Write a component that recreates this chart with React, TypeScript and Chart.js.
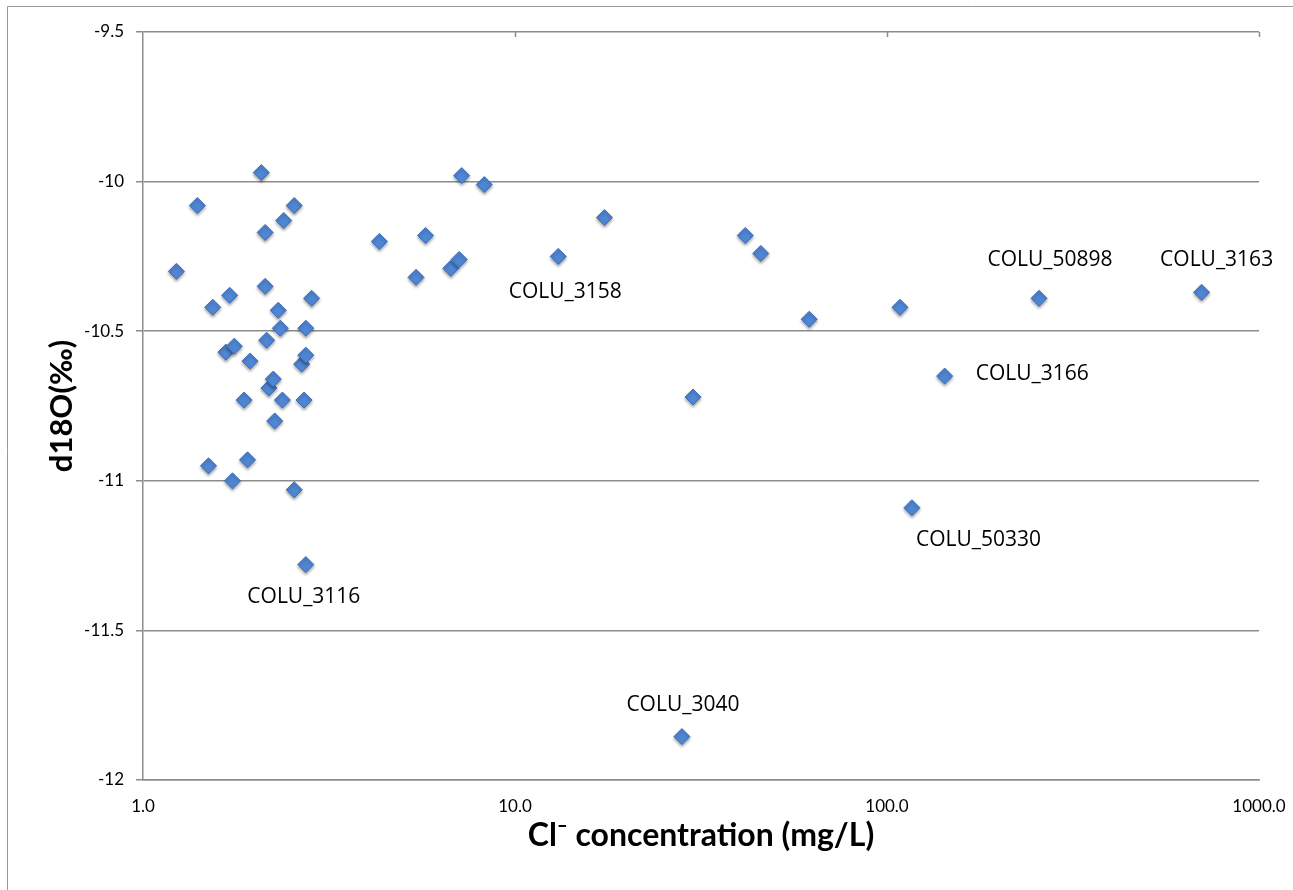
import React, { useEffect, useRef } from 'react';
import { Chart, registerables } from 'chart.js';

Chart.register(...registerables);

// ---- data ----
const clConcentration = [
  1.23, 1.40, 1.50, 1.54, 1.67, 1.71, 1.74, 1.76, 1.87, 1.91,
  1.94, 2.08, 2.13, 2.13, 2.15, 2.18, 2.24, 2.26, 2.31, 2.34,
  2.37, 2.39, 2.55, 2.55, 2.67, 2.71, 2.74, 2.74, 2.74, 2.84,
  4.32, 5.42, 5.75, 6.72, 7.08, 7.19, 8.27, 13.07, 17.4, 28.1,
  30.1, 41.6, 45.8, 61.8, 108.4, 116.7, 142.9, 256.3, 701,
];
const d18O = [
  -10.30, -10.08, -10.95, -10.42, -10.57, -10.38, -11.00, -10.55, -10.73, -10.93,
  -10.60, -9.97, -10.35, -10.17, -10.53, -10.69, -10.66, -10.80, -10.43, -10.49,
  -10.73, -10.13, -10.08, -11.03, -10.61, -10.73, -10.49, -10.58, -11.28, -10.39,
  -10.20, -10.32, -10.18, -10.29, -10.26, -9.98, -10.01, -10.25, -10.12, -11.855,
  -10.72, -10.18, -10.24, -10.46, -10.42, -11.09, -10.65, -10.39, -10.37,
];
const sampleNames = ['COLU_3116', 'COLU_3158', 'COLU_3040', 'COLU_50330', 'COLU_3166', 'COLU_50898', 'COLU_3163'];
const samplePointIndex = [28, 37, 39, 45, 46, 47, 48];
const xTickValues = [1, 10, 100, 1000];
const yTickMin = -12;
const yTickMax = -9.5;
const yTickStep = 0.5;
const xTitle = 'Cl\u207B concentration (mg/L)';
const yTitle = 'd18O(\u2030)';

// ---- label placement (style, not data) ----
const labelPlacement: Record<string, { dx: number; dy: number; align: CanvasTextAlign }> = {
  COLU_3116: { dx: -2, dy: 32, align: 'center' },
  COLU_3158: { dx: 7, dy: 36, align: 'center' },
  COLU_3040: { dx: 1, dy: -32, align: 'center' },
  COLU_50330: { dx: 4, dy: 32, align: 'left' },
  COLU_3166: { dx: 31, dy: -2, align: 'left' },
  COLU_50898: { dx: 11, dy: -38, align: 'center' },
  COLU_3163: { dx: 15, dy: -32, align: 'center' },
};

const GRID = '#8c8c8c';
const FRAME = '#9a9a9a';

const framePlugin = {
  id: 'frame',
  beforeDraw(chart: any) {
    const ctx = chart.ctx;
    ctx.save();
    ctx.fillStyle = '#fff';
    ctx.fillRect(0, 0, chart.width, chart.height);
    ctx.strokeStyle = FRAME;
    ctx.lineWidth = 1;
    ctx.beginPath();
    ctx.moveTo(0.5, chart.height);
    ctx.lineTo(0.5, 0.5);
    ctx.lineTo(chart.width, 0.5);
    ctx.stroke();
    ctx.restore();
  },
};

const pointShadow = {
  id: 'pointShadow',
  beforeDatasetDraw(chart: any) {
    const ctx = chart.ctx;
    ctx.save();
    ctx.shadowColor = 'rgba(0,0,0,0.35)';
    ctx.shadowBlur = 3;
    ctx.shadowOffsetX = 0;
    ctx.shadowOffsetY = 2;
  },
  afterDatasetDraw(chart: any) {
    chart.ctx.restore();
  },
};

const sampleLabelPlugin = {
  id: 'sampleLabels',
  afterDatasetsDraw(chart: any) {
    const ctx = chart.ctx;
    const meta = chart.getDatasetMeta(0);
    ctx.save();
    ctx.font = '21px "Open Sans"';
    ctx.fillStyle = '#000';
    ctx.textBaseline = 'middle';
    sampleNames.forEach((name, i) => {
      const el = meta.data[samplePointIndex[i]];
      if (!el) return;
      const p = labelPlacement[name];
      ctx.textAlign = p.align;
      ctx.fillText(name, el.x + p.dx, el.y + p.dy);
    });
    ctx.restore();
  },
};

const topTicksPlugin = {
  id: 'topTicks',
  afterDraw(chart: any) {
    const ctx = chart.ctx;
    const xs = chart.scales.x;
    const top = chart.chartArea.top;
    ctx.save();
    ctx.strokeStyle = GRID;
    ctx.lineWidth = 1.5;
    xTickValues.slice(1).forEach((v) => {
      const px = Math.round(xs.getPixelForValue(v)) + 0.5;
      ctx.beginPath();
      ctx.moveTo(px, top);
      ctx.lineTo(px, top + 5);
      ctx.stroke();
    });
    ctx.restore();
  },
};

export default function App() {
  const canvasRef = useRef<HTMLCanvasElement | null>(null);

  useEffect(() => {
    document.documentElement.style.overflow = 'hidden';
    document.body.style.overflow = 'hidden';
    const canvas = canvasRef.current;
    if (!canvas) return;
    const points = clConcentration.map((x, i) => ({ x, y: d18O[i] }));
    const chart = new Chart(canvas, {
      type: 'scatter',
      data: {
        datasets: [
          {
            data: points,
            pointStyle: 'rectRot',
            pointRadius: 8,
            pointHoverRadius: 8,
            backgroundColor: '#4f86d4',
            borderColor: '#3c6fb8',
            borderWidth: 1,
          },
        ],
      },
      options: {
        responsive: false,
        animation: false,
        layout: { padding: { top: 26, right: 34, left: 0, bottom: 0 } },
        plugins: {
          legend: { display: false },
          tooltip: { enabled: false },
        },
        scales: {
          x: {
            type: 'logarithmic',
            min: 1,
            max: 1000,
            afterBuildTicks: (scale: any) => {
              scale.ticks = xTickValues.map((v) => ({ value: v }));
            },
            afterFit: (scale: any) => {
              scale.height = 110;
              scale.paddingLeft = 0;
              scale.paddingRight = 0;
            },
            ticks: {
              callback: (v: any) => Number(v).toFixed(1),
              font: { family: 'Lato', size: 17 },
              color: '#000',
              padding: 16,
              maxRotation: 0,
              autoSkip: false,
            },
            grid: { display: false, drawTicks: false },
            border: { display: true, color: GRID, width: 1.5 },
            title: {
              display: true,
              text: xTitle,
              font: { family: 'Lato', size: 32, weight: 'bold' },
              color: '#000',
              padding: { top: 0, bottom: 35 },
            },
          },
          y: {
            type: 'linear',
            min: yTickMin,
            max: yTickMax,
            afterFit: (scale: any) => {
              scale.width = 136;
            },
            ticks: {
              stepSize: yTickStep,
              callback: (v: any) => String(Number(v)),
              font: { family: 'Lato', size: 17 },
              color: '#000',
              padding: 12,
            },
            grid: { color: GRID, lineWidth: 1.5, tickLength: 7, drawTicks: true },
            border: { display: true, color: GRID, width: 1.5 },
            title: {
              display: true,
              text: yTitle,
              font: { family: 'Lato', size: 31, weight: 'bold' },
              color: '#000',
              padding: { top: 36, bottom: 0 },
            },
          },
        },
      },
      plugins: [framePlugin, pointShadow, sampleLabelPlugin, topTicksPlugin],
    } as any);
    return () => chart.destroy();
  }, []);

  return (
    <div
      style={{
        position: 'fixed',
        left: 7,
        top: 6,
        width: 1286,
        height: 884,
        background: '#fff',
      }}
    >
      <canvas ref={canvasRef} width={1286} height={884} style={{ display: 'block' }} />
    </div>
  );
}
